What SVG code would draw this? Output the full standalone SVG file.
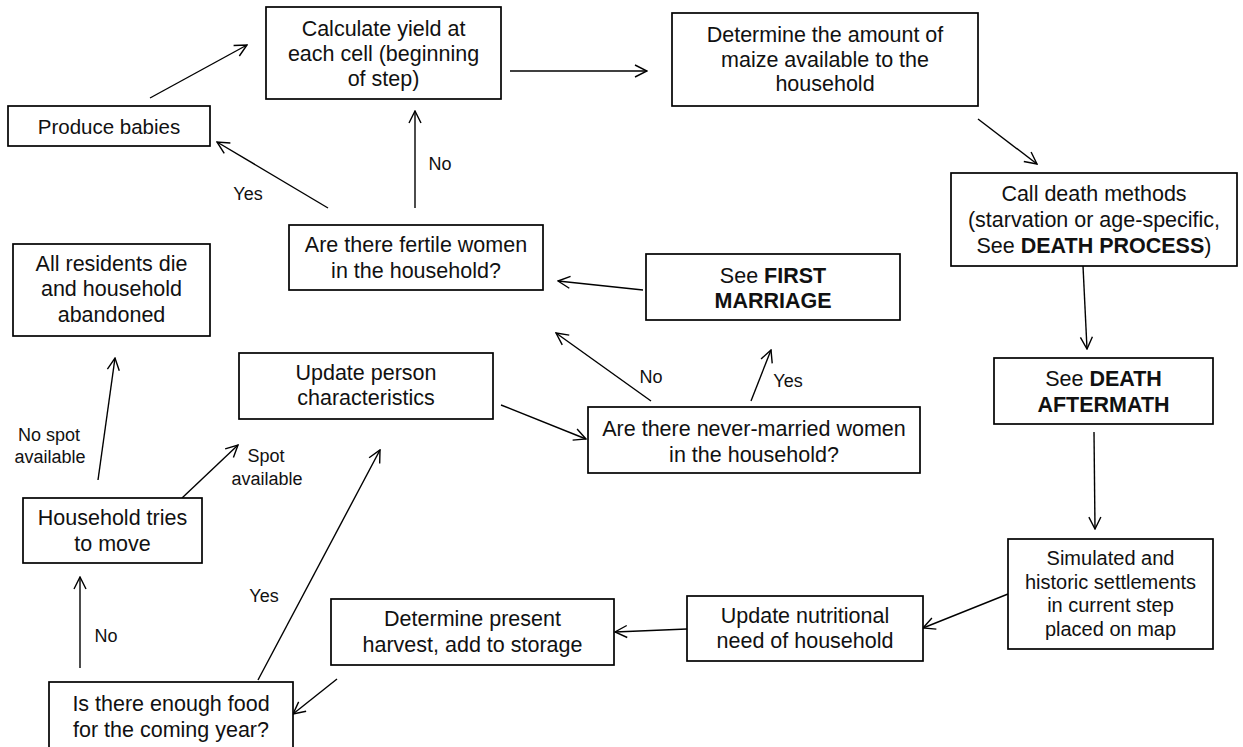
<svg xmlns="http://www.w3.org/2000/svg" width="1243" height="747" viewBox="0 0 1243 747">
<defs>
<style>
.box{fill:#fff;stroke:#000;stroke-width:1.7}
.t{font-family:"Liberation Sans",Arial,sans-serif;font-size:21.5px;fill:#111;text-anchor:middle}
.s{font-size:20px}
.b{font-weight:bold}
.lbl{font-family:"Liberation Sans",Arial,sans-serif;font-size:18px;fill:#111;text-anchor:middle}
.c{fill:none;stroke:#000;stroke-width:1.4;marker-end:url(#ah)}
</style>
<marker id="ah" viewBox="-13 -7 14 14" refX="0" refY="0" markerWidth="14" markerHeight="14" markerUnits="userSpaceOnUse" orient="auto">
<path d="M-12,-6 L0,0 L-12,6" fill="none" stroke="#000" stroke-width="1.4"/>
</marker>
</defs>
<rect width="1243" height="747" fill="#fff"/>

<g id="connectors">
<line class="c" x1="150" y1="98" x2="247" y2="45"/>
<line class="c" x1="510" y1="71" x2="647" y2="71"/>
<line class="c" x1="978" y1="119" x2="1037" y2="164"/>
<line class="c" x1="1083" y1="266" x2="1087" y2="349"/>
<line class="c" x1="1094" y1="432" x2="1095" y2="529"/>
<line class="c" x1="1008" y1="594" x2="923" y2="628"/>
<line class="c" x1="687" y1="629" x2="615" y2="632"/>
<line class="c" x1="337" y1="679" x2="293" y2="714"/>
<line class="c" x1="80" y1="668" x2="80" y2="577"/>
<line class="c" x1="258" y1="680" x2="380" y2="450"/>
<line class="c" x1="182" y1="498" x2="238" y2="445"/>
<line class="c" x1="98" y1="480" x2="115" y2="358"/>
<line class="c" x1="501" y1="405" x2="586" y2="439"/>
<line class="c" x1="751" y1="401" x2="771" y2="350"/>
<line class="c" x1="651" y1="401" x2="556" y2="333"/>
<line class="c" x1="643" y1="290" x2="558" y2="281"/>
<line class="c" x1="328" y1="208" x2="217" y2="142"/>
<line class="c" x1="415" y1="208" x2="415" y2="111"/>
<text class="lbl" x="248" y="200">Yes</text>
<text class="lbl" x="440" y="170">No</text>
<text class="lbl" x="651" y="383">No</text>
<text class="lbl" x="788" y="387">Yes</text>
<text class="lbl" x="49" y="441">No spot</text>
<text class="lbl" x="50" y="463">available</text>
<text class="lbl" x="266" y="462">Spot</text>
<text class="lbl" x="267" y="485">available</text>
<text class="lbl" x="264" y="602">Yes</text>
<text class="lbl" x="106" y="642">No</text>
</g>

<g id="calc-yield">
<rect class="box" x="266" y="7" width="235" height="92"/>
<text class="t" x="383.5" y="36">Calculate yield at</text>
<text class="t" x="383.5" y="61">each cell (beginning</text>
<text class="t" x="383.5" y="86">of step)</text>
</g>

<g id="determine-maize">
<rect class="box" x="672" y="13" width="306" height="93"/>
<text class="t" x="825" y="42">Determine the amount of</text>
<text class="t" x="825" y="67">maize available to the</text>
<text class="t" x="825" y="91">household</text>
</g>

<g id="produce-babies">
<rect class="box" x="8" y="106" width="202" height="40"/>
<text class="t" x="109" y="133.5" style="font-size:20.5px">Produce babies</text>
</g>

<g id="call-death">
<rect class="box" x="951" y="173" width="286" height="93"/>
<text class="t" x="1094" y="201">Call death methods</text>
<text class="t" x="1094" y="227">(starvation or age-specific,</text>
<text class="t" x="1094" y="252.5">See <tspan class="b">DEATH PROCESS</tspan>)</text>
</g>

<g id="fertile-women">
<rect class="box" x="289" y="225" width="254" height="65"/>
<text class="t" x="416" y="252">Are there fertile women</text>
<text class="t" x="416" y="278">in the household?</text>
</g>

<g id="first-marriage">
<rect class="box" x="646" y="254" width="254" height="66"/>
<text class="t" x="773" y="282.5">See <tspan class="b">FIRST</tspan></text>
<text class="t b" x="773" y="308">MARRIAGE</text>
</g>

<g id="all-die">
<rect class="box" x="13" y="244" width="197" height="92"/>
<text class="t" x="111.5" y="270.5">All residents die</text>
<text class="t" x="111.5" y="296">and household</text>
<text class="t" x="111.5" y="321.5">abandoned</text>
</g>

<g id="update-person">
<rect class="box" x="239" y="353" width="254" height="66"/>
<text class="t" x="366" y="380">Update person</text>
<text class="t" x="366" y="405">characteristics</text>
</g>

<g id="never-married">
<rect class="box" x="588" y="407" width="332" height="66"/>
<text class="t" x="754" y="436">Are there never-married women</text>
<text class="t" x="754" y="462">in the household?</text>
</g>

<g id="death-aftermath">
<rect class="box" x="994" y="358" width="219" height="66"/>
<text class="t" x="1103.5" y="386">See <tspan class="b">DEATH</tspan></text>
<text class="t b" x="1103.5" y="411.5">AFTERMATH</text>
</g>

<g id="household-move">
<rect class="box" x="23" y="498" width="179" height="65"/>
<text class="t" x="112.5" y="525">Household tries</text>
<text class="t" x="112.5" y="551">to move</text>
</g>

<g id="enough-food">
<rect class="box" x="49" y="682" width="244" height="80"/>
<text class="t" x="171" y="711">Is there enough food</text>
<text class="t" x="171" y="736.5">for the coming year?</text>
</g>

<g id="present-harvest">
<rect class="box" x="331" y="599" width="283" height="66"/>
<text class="t" x="472.5" y="626">Determine present</text>
<text class="t" x="472.5" y="652">harvest, add to storage</text>
</g>

<g id="update-nutrition">
<rect class="box" x="687" y="596" width="236" height="65"/>
<text class="t" x="805" y="623">Update nutritional</text>
<text class="t" x="805" y="648">need of household</text>
</g>

<g id="simulated">
<rect class="box" x="1008" y="539" width="205" height="110"/>
<text class="t s" x="1110.5" y="565">Simulated and</text>
<text class="t s" x="1110.5" y="588.5">historic settlements</text>
<text class="t s" x="1110.5" y="612">in current step</text>
<text class="t s" x="1110.5" y="636">placed on map</text>
</g>
</svg>
